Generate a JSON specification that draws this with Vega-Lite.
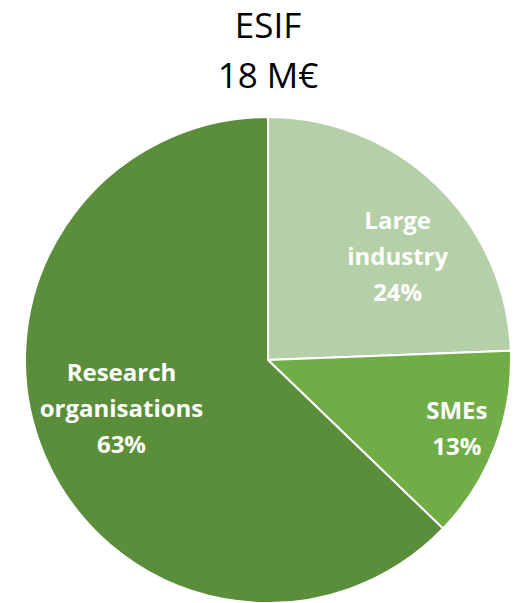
{
  "$schema": "https://vega.github.io/schema/vega-lite/v6.json",
  "autosize": "none",
  "width": 486,
  "height": 486,
  "padding": {"left": 25, "top": 117, "right": 6, "bottom": 0},
  "background": "white",
  "title": {
    "text": ["ESIF", "18 M€"],
    "font": "Open Sans",
    "fontSize": 35,
    "fontWeight": "normal",
    "color": "#000000",
    "lineHeight": 50,
    "anchor": "middle",
    "offset": 18
  },
  "data": {
    "values": [
      {"rank": 1, "category": "Large industry", "label": "Large\nindustry", "value": 24.4, "pct": 24},
      {"rank": 2, "category": "SMEs", "label": "SMEs", "value": 12.8, "pct": 13},
      {"rank": 3, "category": "Research organisations", "label": "Research\norganisations", "value": 62.8, "pct": 63}
    ]
  },
  "transform": [
    {"calculate": "datum.label + '\\n' + datum.pct + '%'", "as": "text"},
    {"stack": "value", "groupby": [], "sort": [{"field": "rank", "order": "ascending"}], "as": ["v0", "v1"]},
    {"calculate": "(datum.v0 + datum.v1) / 2", "as": "mid"}
  ],
  "layer": [
    {
      "mark": {"type": "arc", "stroke": "white", "strokeWidth": 2},
      "encoding": {
        "theta": {"field": "v0", "type": "quantitative", "scale": {"domain": [0, 100]}, "stack": false},
        "theta2": {"field": "v1"},
        "color": {
          "field": "category",
          "type": "nominal",
          "scale": {
            "domain": ["Large industry", "SMEs", "Research organisations"],
            "range": ["#B5CFA8", "#70AD47", "#5B8E3B"]
          },
          "legend": null
        }
      }
    },
    {
      "transform": [{"filter": "datum.category == 'Large industry'"}],
      "mark": {"type": "text", "radius": 161, "dx": 18, "dy": -22, "font": "Open Sans", "fontWeight": "bold", "fontSize": 24, "color": "white", "lineBreak": "\n", "lineHeight": 36, "align": "center", "baseline": "middle"},
      "encoding": {
        "theta": {"field": "mid", "type": "quantitative", "scale": {"domain": [0, 100]}, "stack": false},
        "text": {"field": "text"}
      }
    },
    {
      "transform": [{"filter": "datum.category == 'SMEs'"}],
      "mark": {"type": "text", "radius": 200, "dx": 2, "dy": -19, "font": "Open Sans", "fontWeight": "bold", "fontSize": 24, "color": "white", "lineBreak": "\n", "lineHeight": 36, "align": "center", "baseline": "middle"},
      "encoding": {
        "theta": {"field": "mid", "type": "quantitative", "scale": {"domain": [0, 100]}, "stack": false},
        "text": {"field": "text"}
      }
    },
    {
      "transform": [{"filter": "datum.category == 'Research organisations'"}],
      "mark": {"type": "text", "radius": 156, "dx": -3, "dy": -47, "font": "Open Sans", "fontWeight": "bold", "fontSize": 24, "color": "white", "lineBreak": "\n", "lineHeight": 36, "align": "center", "baseline": "middle"},
      "encoding": {
        "theta": {"field": "mid", "type": "quantitative", "scale": {"domain": [0, 100]}, "stack": false},
        "text": {"field": "text"}
      }
    }
  ]
}
